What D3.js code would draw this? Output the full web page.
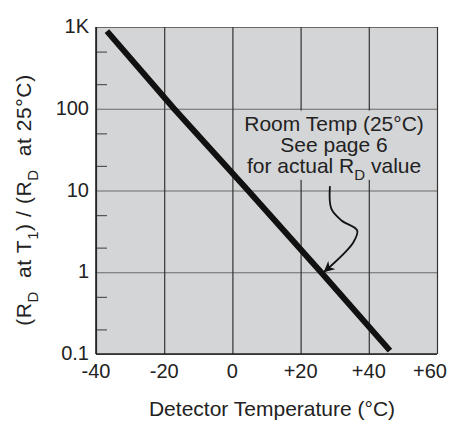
<!DOCTYPE html>
<html>
<head>
<meta charset="utf-8">
<script src="https://cdn.jsdelivr.net/npm/d3@7"></script>
<style>
  body { margin: 0; background: #fff; }
  text { font-family: "Liberation Sans", Arial, sans-serif; fill: #222; white-space: pre; }
</style>
</head>
<body>
<div id="canvas"></div>
<script>
// data
const temps = [-36.8, -17.1, 4.6, 26.0, 46.2];      // detector temperature (°C)
const ratios = [890, 100, 10, 1, 0.11];             // R_D at T1 / R_D at 25°C
const xTicks = [-40, -20, 0, 20, 40, 60];
const xTickLabels = ["-40", "-20", "0", "+20", "+40", "+60"];
const yTicks = [0.1, 1, 10, 100, 1000];
const yTickLabels = ["0.1", "1", "10", "100", "1K"];
const yMinorTicks = [0.2, 0.5, 2, 5, 20, 50, 200, 500];
const arrowTemps = [28.6, 29.0, 32.0, 36.6, 35.4, 27.0];
const arrowRatios = [11.3, 6.0, 4.3, 3.25, 2.3, 1.02];

// dimensions
const width = 449;
const height = 422;
const margins = {top: 27, right: 12, bottom: 68, left: 96};
const dataWidth = width - margins.left - margins.right;
const dataHeight = height - margins.top - margins.bottom;
const fontSize = 20;
const titleSize = 21;
const subSize = 15;

var svg = d3.select("#canvas").append("svg")
    .attr("width", width)
    .attr("height", height);

var x = d3.scaleLinear().domain([-40, 60]).range([0, dataWidth]);
var y = d3.scaleLog().domain([0.1, 1000]).range([dataHeight, 0]);

var dataArea = svg.append("g")
    .attr("transform", `translate(${margins.left}, ${margins.top})`);

// background
dataArea.append("rect")
    .attr("width", dataWidth)
    .attr("height", dataHeight)
    .attr("fill", "#d4d5d7");

// horizontal grid
dataArea.append("g")
    .call(d3.axisLeft(y).tickValues(yTicks).tickSize(-dataWidth).tickFormat(""))
    .call(g => g.select(".domain").remove())
    .call(g => g.selectAll("line").attr("stroke", "#6a6a6a").attr("stroke-width", 1.2));

// minor ticks on the left edge
dataArea.append("g")
    .call(d3.axisLeft(y).tickValues(yMinorTicks).tickSize(-11).tickFormat(""))
    .call(g => g.select(".domain").remove())
    .call(g => g.selectAll("line").attr("stroke", "#555").attr("stroke-width", 1.2));

// vertical grid
dataArea.append("g")
    .attr("transform", `translate(0, ${dataHeight})`)
    .call(d3.axisBottom(x).tickValues(xTicks).tickSize(-dataHeight).tickFormat(""))
    .call(g => g.select(".domain").remove())
    .call(g => g.selectAll("line").attr("stroke", "#333").attr("stroke-width", 1.2));

// axis lines
dataArea.append("line")
    .attr("x1", 0).attr("x2", 0).attr("y1", 0).attr("y2", dataHeight)
    .attr("stroke", "#222").attr("stroke-width", 1.6);
dataArea.append("line")
    .attr("x1", 0).attr("x2", dataWidth).attr("y1", dataHeight).attr("y2", dataHeight)
    .attr("stroke", "#222").attr("stroke-width", 1.6);

// tick labels
dataArea.selectAll(".xlabel")
    .data(xTicks)
    .enter().append("text")
    .attr("class", "xlabel")
    .attr("x", (d, i) => i == xTicks.length - 1 ? width - margins.left - 2 : x(d))
    .attr("y", dataHeight + 24)
    .attr("text-anchor", (d, i) => i == xTicks.length - 1 ? "end" : "middle")
    .attr("font-size", fontSize)
    .text((d, i) => xTickLabels[i]);

dataArea.selectAll(".ylabel")
    .data(yTicks)
    .enter().append("text")
    .attr("class", "ylabel")
    .attr("x", -7)
    .attr("y", d => y(d))
    .attr("dy", "0.3em")
    .attr("text-anchor", "end")
    .attr("font-size", fontSize)
    .text((d, i) => yTickLabels[i]);

// annotation box and text
dataArea.append("rect")
    .attr("x", x(2.5))
    .attr("y", y(95))
    .attr("width", x(59) - x(2.5))
    .attr("height", y(13.5) - y(95))
    .attr("fill", "#d4d5d7");

var note = dataArea.append("text")
    .attr("text-anchor", "middle")
    .attr("font-size", titleSize)
    .attr("transform", `translate(${x(29.8)}, ${y(53)})`);
note.append("tspan").attr("x", 0).attr("dy", 0).text("Room Temp (25°C)");
note.append("tspan").attr("x", 0).attr("dy", 21).text("See page 6");
note.append("tspan").attr("x", 0).attr("dy", 21).text("for actual R");
note.append("tspan").attr("dy", 7).attr("font-size", subSize).text("D");
note.append("tspan").attr("dy", -7).text(" value");

// the curve
dataArea.append("path")
    .datum(temps.map((t, i) => [t, ratios[i]]))
    .attr("fill", "none")
    .attr("stroke", "#111")
    .attr("stroke-width", 6)
    .attr("d", d3.line().x(d => x(d[0])).y(d => y(d[1])));

// arrow
svg.append("defs").append("marker")
    .attr("id", "head")
    .attr("viewBox", "0 0 10 10")
    .attr("refX", 9).attr("refY", 5)
    .attr("markerWidth", 11).attr("markerHeight", 11)
    .attr("markerUnits", "userSpaceOnUse")
    .attr("orient", "auto")
    .append("path")
    .attr("d", "M0,0 L10,5 L0,10 L3,5 Z")
    .attr("fill", "#111");

dataArea.append("path")
    .datum(arrowTemps.map((t, i) => [t, arrowRatios[i]]))
    .attr("fill", "none")
    .attr("stroke", "#111")
    .attr("stroke-width", 1.8)
    .attr("marker-end", "url(#head)")
    .attr("d", d3.line().curve(d3.curveCatmullRom).x(d => x(d[0])).y(d => y(d[1])));

// X axis label
svg.append("text")
    .attr("text-anchor", "middle")
    .attr("x", 272)
    .attr("y", 416)
    .attr("font-size", titleSize)
    .text("Detector Temperature (°C)");

// Y axis label
var yl = svg.append("text")
    .attr("text-anchor", "middle")
    .attr("font-size", titleSize)
    .attr("letter-spacing", 0.6)
    .attr("transform", `translate(31, 200) rotate(-90)`);
yl.append("tspan").text("(R");
yl.append("tspan").attr("dy", 7).attr("font-size", subSize).text("D");
yl.append("tspan").attr("dy", -7).text("  at T");
yl.append("tspan").attr("dy", 7).attr("font-size", subSize).text("1");
yl.append("tspan").attr("dy", -7).text(") / (R");
yl.append("tspan").attr("dy", 7).attr("font-size", subSize).text("D");
yl.append("tspan").attr("dy", -7).text("  at 25°C)");
</script>
</body>
</html>
